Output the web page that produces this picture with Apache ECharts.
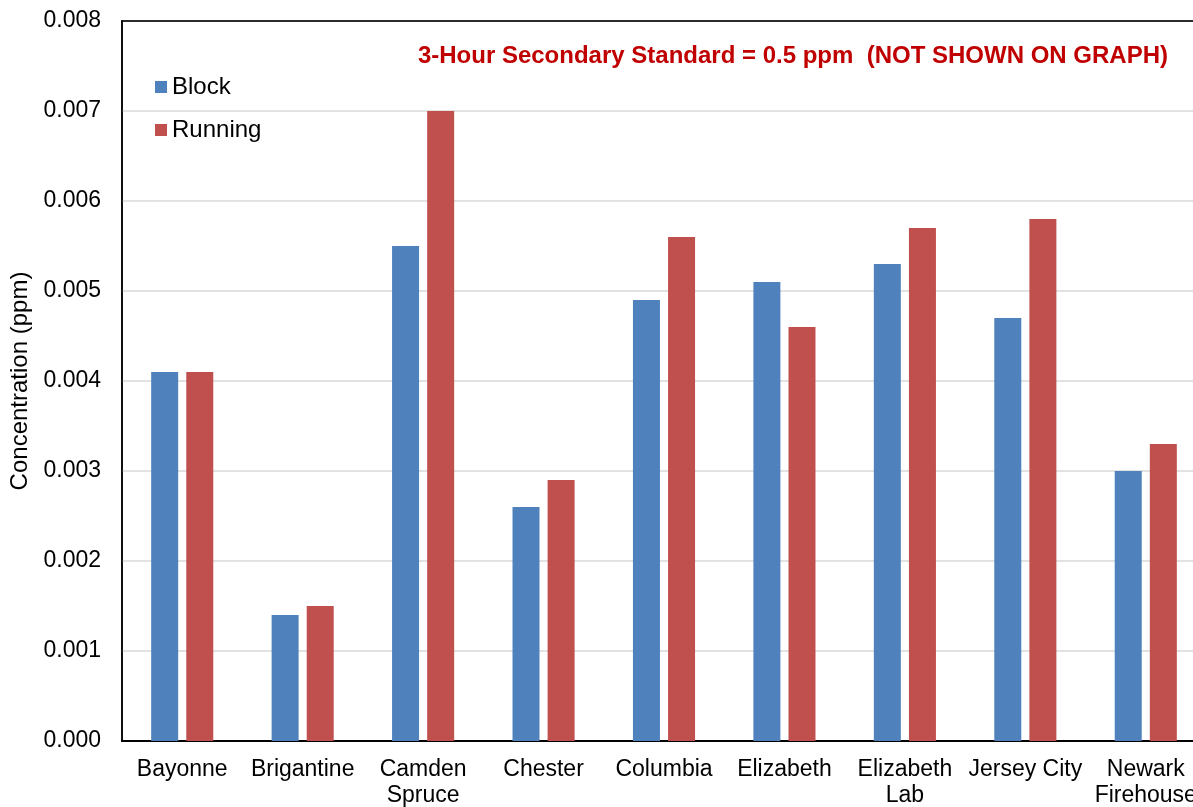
<!DOCTYPE html>
<html>
<head>
<meta charset="utf-8">
<script src="https://cdn.jsdelivr.net/npm/echarts@6/dist/echarts.min.js"></script>
<style>
  html, body { margin: 0; padding: 0; background: #fff; }
  #chart { width: 1193px; height: 807px; }
</style>
</head>
<body>
<div id="chart"></div>
<script>
// Monitoring sites
const categories = ['Bayonne', 'Brigantine', 'Camden\nSpruce', 'Chester', 'Columbia',
  'Elizabeth', 'Elizabeth\nLab', 'Jersey City', 'Newark\nFirehouse'];
// Block-averaged concentrations (ppm)
const blockValues = [0.0041, 0.0014, 0.0055, 0.0026, 0.0049, 0.0051, 0.0053, 0.0047, 0.0030];
// Running-averaged concentrations (ppm)
const runningValues = [0.0041, 0.0015, 0.0070, 0.0029, 0.0056, 0.0046, 0.0057, 0.0058, 0.0033];
// Y axis range
const yMin = 0, yMax = 0.008, yStep = 0.001;

const font = 'Liberation Sans, Arial, sans-serif';
const chart = echarts.init(document.getElementById('chart'));
chart.setOption({
  animation: false,
  textStyle: { fontFamily: font },
  title: {
    text: '3-Hour Secondary Standard = 0.5 ppm  (NOT SHOWN ON GRAPH)',
    right: 20, top: 39,
    textStyle: { color: '#c00000', fontWeight: 'bold', fontSize: 24, fontFamily: font }
  },
  legend: {
    orient: 'vertical', left: 150, top: 70,
    itemWidth: 12, itemHeight: 12, itemGap: 19, icon: 'rect',
    textStyle: { fontSize: 24, color: '#000' },
    data: ['Block', 'Running']
  },
  grid: {
    left: 122, right: -13, top: 21, bottom: 66,
    outerBoundsMode: 'none', containLabel: false,
    show: true, borderColor: '#000', borderWidth: 1.5
  },
  xAxis: [
    {
      type: 'category', data: categories,
      axisLine: { lineStyle: { color: '#000', width: 2 } },
      axisTick: { show: false },
      axisLabel: { color: '#000', fontSize: 23, lineHeight: 26, margin: 16, interval: 0 }
    },
    {
      // plot-area top edge
      type: 'category', data: categories, position: 'top',
      axisLine: { lineStyle: { color: '#000', width: 1.5 } },
      axisTick: { show: false }, axisLabel: { show: false }
    }
  ],
  yAxis: {
    type: 'value', min: yMin, max: yMax, interval: yStep,
    name: 'Concentration (ppm)', nameLocation: 'middle', nameGap: 87,
    nameTextStyle: { color: '#000', fontSize: 24 },
    axisLine: { show: true, lineStyle: { color: '#000', width: 1.5 } },
    axisTick: { show: false },
    axisLabel: { color: '#000', fontSize: 23, margin: 21, formatter: v => v.toFixed(3) },
    splitLine: { lineStyle: { color: '#d9d9d9', width: 1.5 } }
  },
  series: [
    { name: 'Block', type: 'bar', data: blockValues, barWidth: 27, barGap: '30%',
      itemStyle: { color: '#4f81bd' } },
    { name: 'Running', type: 'bar', data: runningValues, barWidth: 27, barGap: '30%',
      itemStyle: { color: '#c0504d' } }
  ]
});
</script>
</body>
</html>
